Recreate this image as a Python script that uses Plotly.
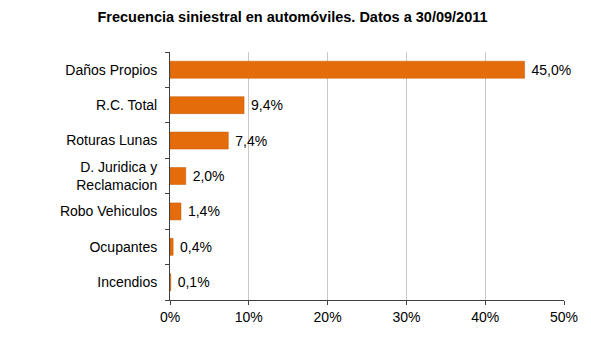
import plotly.graph_objects as go

categories = ["Daños Propios", "R.C. Total", "Roturas Lunas", "D. Juridica y<br>Reclamacion",
              "Robo Vehiculos", "Ocupantes", "Incendios"]
values = [45.0, 9.4, 7.4, 2.0, 1.4, 0.4, 0.1]
labels = ["45,0%", "9,4%", "7,4%", "2,0%", "1,4%", "0,4%", "0,1%"]
tick_vals = [0, 10, 20, 30, 40, 50]
tick_text = ["0%", "10%", "20%", "30%", "40%", "50%"]

fig = go.Figure(go.Bar(
    x=values, y=categories, orientation="h",
    marker=dict(color="#E46C0A", line=dict(color="#C55A08", width=0.5)),
    width=0.48,
    text=labels, texttemplate="\u00a0%{text}", textposition="outside", cliponaxis=False,
    textfont=dict(size=14, color="#000000", family="Liberation Sans, Arial"),
))

fig.update_layout(
    width=591, height=341,
    margin=dict(l=170, r=27, t=52, b=41),
    paper_bgcolor="white", plot_bgcolor="white",
    font=dict(family="Liberation Sans, Arial", size=14, color="#000000"),
    title=dict(text="<b>Frecuencia siniestral en automóviles. Datos a 30/09/2011</b>",
               x=0.495, xanchor="center", y=0.95, yanchor="middle",
               font=dict(size=14.5, color="#000000")),
    showlegend=False,
    bargap=0.5,
)
fig.update_xaxes(
    range=[0, 50], tickvals=tick_vals, ticktext=tick_text,
    showgrid=True, gridcolor="#C8C8C8", gridwidth=1,
    showline=True, linecolor="#404040", linewidth=1,
    ticks="outside", ticklen=4, tickcolor="#404040",
    zeroline=False, tickfont=dict(size=14),
)
fig.update_yaxes(
    categoryorder="array", categoryarray=categories[::-1],
    autorange=True,
    showline=True, linecolor="#404040", linewidth=1,
    ticks="outside", tickson="boundaries", ticklen=4, tickcolor="#404040",
    showgrid=False, tickfont=dict(size=14), ticklabelstandoff=9,
)

fig.write_html("out.html")
